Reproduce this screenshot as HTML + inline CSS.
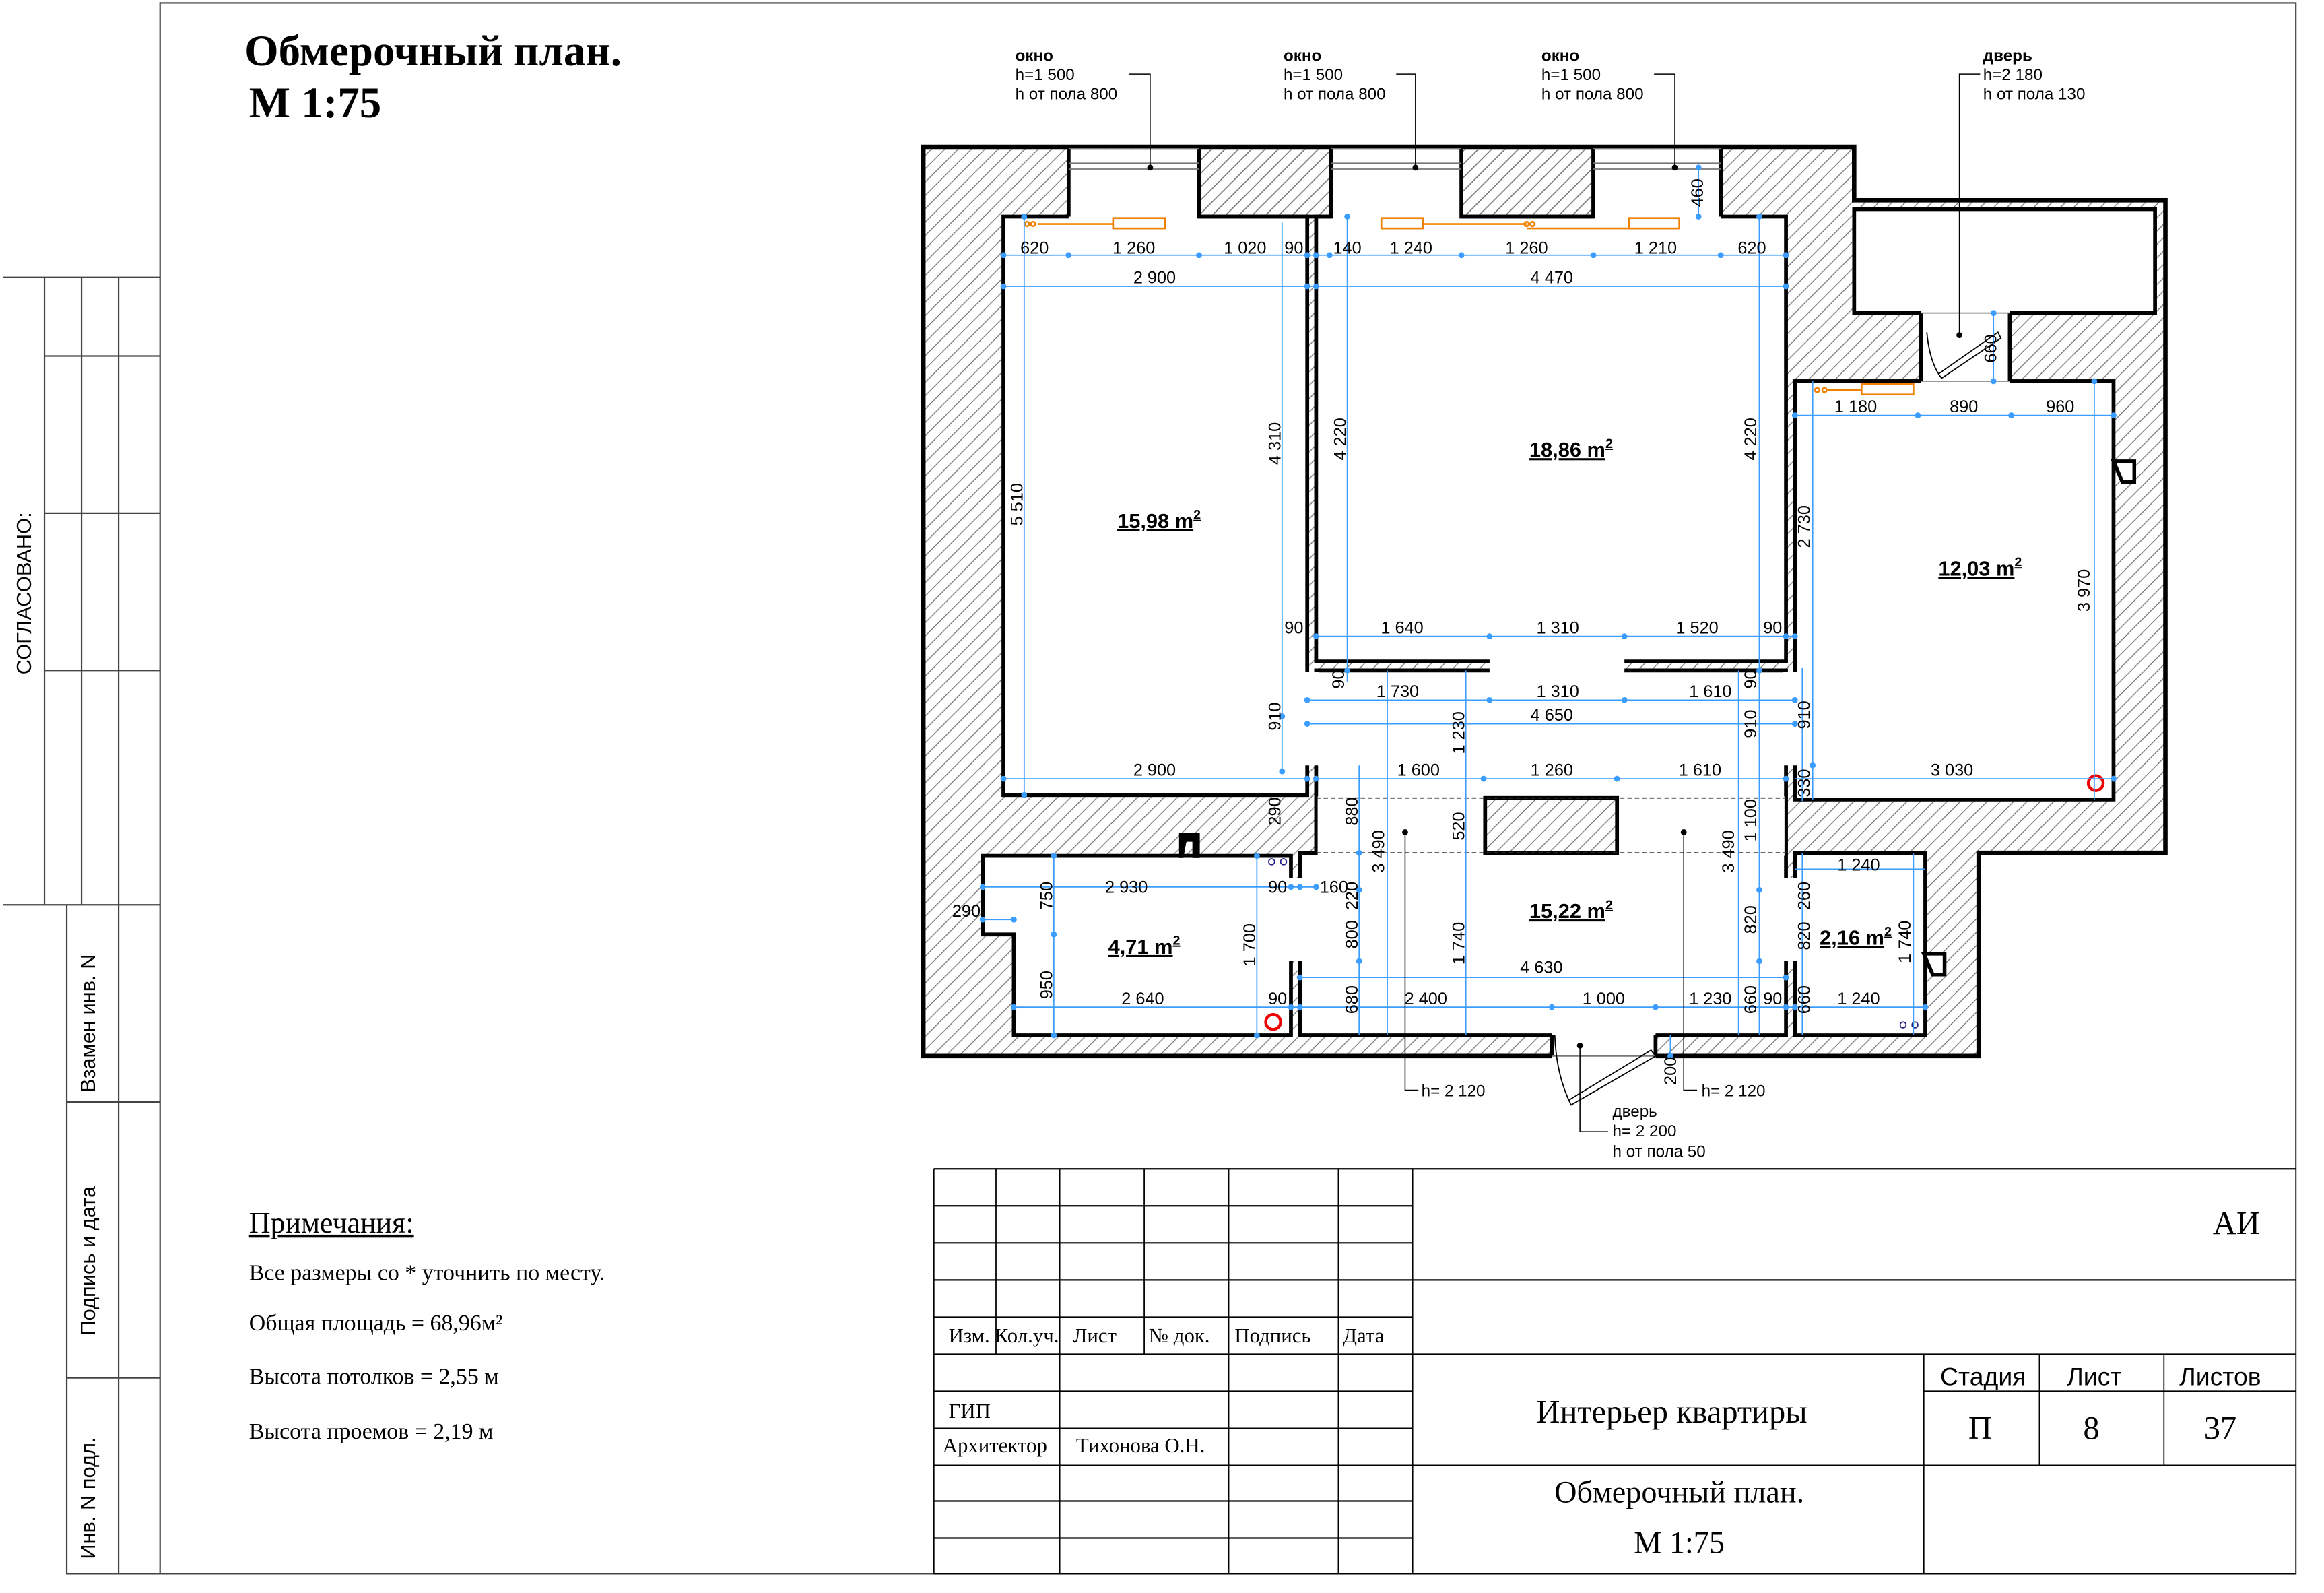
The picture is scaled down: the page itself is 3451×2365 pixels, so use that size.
<!DOCTYPE html>
<html><head><meta charset="utf-8"><style>
html,body{margin:0;padding:0;background:#fff}
svg{display:block}
.dv{font-family:"Liberation Sans",sans-serif;font-size:11.5px;fill:#000;text-anchor:middle}
.a{font-family:"Liberation Sans",sans-serif;font-size:14px;font-weight:bold;text-decoration:underline;text-anchor:middle}
.s{font-family:"Liberation Serif",serif;fill:#000}
.n{font-family:"Liberation Sans",sans-serif}
</style></head><body>
<svg width="3451" height="2365" viewBox="0 0 1568 1074" preserveAspectRatio="none" xmlns="http://www.w3.org/2000/svg">
<defs>
<pattern id="h" patternUnits="userSpaceOnUse" width="9" height="9">
<path d="M0,9 L9,0 M-2,2 L2,-2 M7,11 L11,7" stroke="#777" stroke-width="0.6"/>
</pattern>
</defs>
<rect width="1568" height="1074" fill="#fff"/>
<g stroke="#444" stroke-width="1" fill="none">
<rect x="108" y="2" width="1441" height="1059"/>
<path d="M2,187 H108 M2,610 H108 M30,187 V610 M55,187 V610 M80,187 V610 M30,240 H108 M30,346 H108 M30,452 H108"/>
<path d="M45,610 V1061 H108 M80,610 V1061 M45,743 H108 M45,929 H108"/>
</g>
<text class="s" x="165" y="44" style="font-size:29.5px;font-weight:bold">Обмерочный план.</text>
<text class="s" x="168" y="79" style="font-size:29.5px;font-weight:bold">М 1:75</text>
<text class="n" transform="rotate(-90 21 400)" x="21" y="400" text-anchor="middle" style="font-size:14px">СОГЛАСОВАНО:</text>
<text class="n" transform="rotate(-90 64 690)" x="64" y="690" text-anchor="middle" style="font-size:14px">Взамен инв. N</text>
<text class="n" transform="rotate(-90 64 850)" x="64" y="850" text-anchor="middle" style="font-size:14px">Подпись и дата</text>
<text class="n" transform="rotate(-90 64 1010)" x="64" y="1010" text-anchor="middle" style="font-size:14px">Инв. N подл.</text>
<text class="s" x="168" y="831" style="font-size:20px" text-decoration="underline">Примечания:</text>
<text class="s" x="168" y="863" style="font-size:15.4px">Все размеры со * уточнить по месту.</text>
<text class="s" x="168" y="897" style="font-size:15.4px">Общая площадь = 68,96м²</text>
<text class="s" x="168" y="933" style="font-size:15.4px">Высота потолков = 2,55 м</text>
<text class="s" x="168" y="970" style="font-size:15.4px">Высота проемов = 2,19 м</text>

<g stroke="#000" stroke-width="1" fill="none">
<path d="M630,788 V1061 H1549 M953,788 V1061 M630,788 H1549"/>
<path d="M630,813 H953 M630,838 H953 M630,863 H1549 M630,888 H953 M630,913 H1549 M630,938 H953 M1298,938 H1549 M630,963 H953 M630,988 H1549 M630,1012 H953 M630,1037 H953"/>
<path d="M672,788 V913 M715,788 V1061 M772,788 V913 M829,788 V1061 M903,788 V1061 M1298,913 V1061 M1376,913 V988 M1460,913 V988" stroke-width="0.8"/>
</g>
<text class="s" x="640" y="905" style="font-size:14px">Изм.</text>
<text class="s" x="671" y="905" style="font-size:14px">Кол.уч.</text>
<text class="s" x="724" y="905" style="font-size:14px">Лист</text>
<text class="s" x="775" y="905" style="font-size:14px">№ док.</text>
<text class="s" x="833" y="905" style="font-size:14px">Подпись</text>
<text class="s" x="906" y="905" style="font-size:14px">Дата</text>
<text class="s" x="640" y="956" style="font-size:14px">ГИП</text>
<text class="s" x="636" y="979" style="font-size:14px">Архитектор</text>
<text class="s" x="726" y="979" style="font-size:14px">Тихонова О.Н.</text>
<text class="s" x="1493" y="832" style="font-size:22px">АИ</text>
<text class="s" x="1128" y="959" style="font-size:22px" text-anchor="middle">Интерьер квартиры</text>
<text class="s" x="1133" y="1013" style="font-size:21px" text-anchor="middle">Обмерочный план.</text>
<text class="s" x="1133" y="1047" style="font-size:21px" text-anchor="middle">М 1:75</text>
<text class="n" x="1338" y="934" style="font-size:17px" text-anchor="middle">Стадия</text>
<text class="n" x="1413" y="934" style="font-size:17px" text-anchor="middle">Лист</text>
<text class="n" x="1498" y="934" style="font-size:17px" text-anchor="middle">Листов</text>
<text class="s" x="1336" y="970" style="font-size:22px" text-anchor="middle">П</text>
<text class="s" x="1411" y="970" style="font-size:22px" text-anchor="middle">8</text>
<text class="s" x="1498" y="970" style="font-size:22px" text-anchor="middle">37</text>

<path d="M623,99 H1251 V135 H1461 V575 H1335 V712 H623 Z" fill="url(#h)" stroke="#000" stroke-width="3"/>
<g fill="#fff" stroke="#000" stroke-width="2.6">
<rect x="1251" y="141" width="203" height="70"/>
<rect x="677" y="146" width="205" height="390"/>
<rect x="888" y="146" width="317" height="300"/>
<rect x="1211" y="257" width="215" height="282"/>
<path d="M888,452 H1205 V698 H877 V575 H888 Z"/>
<path d="M663,577 H871 V698 H684 V630 H663 Z"/>
<rect x="1211" y="575" width="88" height="123"/>
</g>
<g fill="#fff">
<rect x="721" y="100.5" width="88" height="47"/>
<rect x="898" y="100.5" width="88" height="47"/>
<rect x="1075" y="100.5" width="86" height="47"/>
<rect x="1005" y="443" width="91" height="11"/>
<rect x="880" y="453" width="10" height="63"/>
<rect x="1203" y="453" width="10" height="63"/>
<rect x="869" y="592" width="10" height="56"/>
<rect x="1203" y="592" width="10" height="56"/>
<rect x="1296" y="209" width="60" height="50"/>
<rect x="1047" y="696" width="70" height="18"/>
<rect x="889" y="537" width="315" height="40"/>
</g>
<g stroke="#000" stroke-width="2.6" fill="url(#h)">
<rect x="809" y="99" width="89" height="47"/>
<rect x="986" y="99" width="89" height="47"/>
<rect x="1002" y="538" width="89" height="37"/>
</g>
<path d="M1161,99 V146 M721,99 V146 M623,99 H721 M1161,99 H1251 M1296,211 V257 M1356,211 V257 M1047,698 V712 M1117,698 V712" stroke="#000" stroke-width="2.6"/>
<g stroke="#777" stroke-width="0.8" fill="none">
<path d="M721,100 H809 M898,100 H986 M1075,100 H1161"/>
<path d="M721,110 H809 M721,114 H809 M898,110 H986 M898,114 H986 M1075,110 H1161 M1075,114 H1161"/>
<path d="M1296,211 H1356 M1296,257 H1356 M1047,712 H1117"/>
</g>
<path d="M888,538 H1205 M888,575 H1205" stroke="#333" stroke-width="0.8" stroke-dasharray="3,2"/>
<g stroke="#000" stroke-width="0.8" fill="none">
<path d="M1300,224 Q1302,245 1310,255 L1350,228 L1348,224 L1308,252"/>
<path d="M1049,698 Q1050,725 1060,745 L1117,712 L1114,708 L1058,742"/>
</g>
<g stroke="#f08000" stroke-width="1.2" fill="none">
<path d="M700,151 H751"/><rect x="751" y="147" width="35" height="7"/>
<circle cx="693" cy="151" r="1.5"/><circle cx="697" cy="151" r="1.5"/>
<rect x="932" y="147" width="28" height="7"/><path d="M960,151 H1030 M1030,154 H1099"/><rect x="1099" y="147" width="34" height="7"/>
<circle cx="1030" cy="151" r="1.5"/><circle cx="1034" cy="151" r="1.5"/>
<circle cx="1226" cy="263" r="1.5"/><circle cx="1231" cy="263" r="1.5"/><path d="M1233,263 H1256"/><rect x="1256" y="259" width="35" height="7"/>
</g>
<g stroke="#e00" stroke-width="2" fill="none"><circle cx="1414" cy="528" r="5"/><circle cx="859" cy="689" r="5"/></g>
<g stroke="#228" stroke-width="0.8" fill="none"><circle cx="858" cy="581" r="2"/><circle cx="866" cy="581" r="2"/><circle cx="1284" cy="691" r="2"/><circle cx="1292" cy="691" r="2"/></g>
<g fill="#000" stroke="#000" stroke-width="1"><path d="M796,562 H809 V578 H805 V567 H800 L798,578 H796 Z"/><path d="M1426,311 H1440 V325 H1432 Z" fill="#fff" stroke-width="2.5"/><path d="M1298,643 H1312 V657 H1304 Z" fill="#fff" stroke-width="2.5"/></g>

<g stroke="#3a9dff" stroke-width="0.8" fill="none">
<path d="M677,172 H1205 M677,193 H1205 M1211,280 H1426 M888,429 H1211 M882,472 H1211 M882,488 H1211 M677,525 H882 M888,525 H1205 M1211,525 H1426"/>
<path d="M663,598 H888 M663,620 H684 M1211,586 H1299 M877,659 H1205 M684,679 H1299"/>
<path d="M691,146 V536 M865,150 V520 M909,146 V460 M1187,146 V698 M1223,257 V539 M1413,257 V539 M1146,113 V146"/>
<path d="M936,452 V698 M989,452 V698 M917,516 V698 M1173,452 V698 M1216,450 V540 M711,577 V698 M848,577 V698 M1291,575 V698 M1216,575 V698 M1127,698 V712 M1345,211 V257"/>
</g>
<g fill="#3a9dff">
<circle cx="677" cy="172" r="2"/><circle cx="721" cy="172" r="2"/><circle cx="809" cy="172" r="2"/><circle cx="882" cy="172" r="2"/><circle cx="888" cy="172" r="2"/><circle cx="897" cy="172" r="2"/><circle cx="986" cy="172" r="2"/><circle cx="1075" cy="172" r="2"/><circle cx="1161" cy="172" r="2"/><circle cx="1205" cy="172" r="2"/>
<circle cx="677" cy="193" r="2"/><circle cx="882" cy="193" r="2"/><circle cx="888" cy="193" r="2"/><circle cx="1205" cy="193" r="2"/>
<circle cx="1211" cy="280" r="2"/><circle cx="1294" cy="280" r="2"/><circle cx="1357" cy="280" r="2"/><circle cx="1426" cy="280" r="2"/>
<circle cx="888" cy="429" r="2"/><circle cx="1005" cy="429" r="2"/><circle cx="1096" cy="429" r="2"/><circle cx="1205" cy="429" r="2"/><circle cx="1211" cy="429" r="2"/>
<circle cx="882" cy="472" r="2"/><circle cx="1005" cy="472" r="2"/><circle cx="1096" cy="472" r="2"/><circle cx="1211" cy="472" r="2"/>
<circle cx="882" cy="488" r="2"/><circle cx="1211" cy="488" r="2"/>
<circle cx="677" cy="525" r="2"/><circle cx="882" cy="525" r="2"/><circle cx="888" cy="525" r="2"/><circle cx="1001" cy="525" r="2"/><circle cx="1091" cy="525" r="2"/><circle cx="1205" cy="525" r="2"/><circle cx="1426" cy="525" r="2"/>
<circle cx="691" cy="146" r="2"/><circle cx="691" cy="536" r="2"/><circle cx="865" cy="483" r="2"/><circle cx="865" cy="520" r="2"/><circle cx="909" cy="146" r="2"/><circle cx="909" cy="452" r="2"/><circle cx="1187" cy="146" r="2"/><circle cx="1187" cy="452" r="2"/><circle cx="1223" cy="516" r="2"/><circle cx="1413" cy="257" r="2"/>
<circle cx="663" cy="598" r="2"/><circle cx="871" cy="598" r="2"/><circle cx="877" cy="598" r="2"/><circle cx="888" cy="598" r="2"/><circle cx="663" cy="620" r="2"/><circle cx="684" cy="620" r="2"/>
<circle cx="877" cy="659" r="2"/><circle cx="1205" cy="659" r="2"/><circle cx="684" cy="679" r="2"/><circle cx="871" cy="679" r="2"/><circle cx="877" cy="679" r="2"/><circle cx="1047" cy="679" r="2"/><circle cx="1117" cy="679" r="2"/><circle cx="1205" cy="679" r="2"/><circle cx="1211" cy="679" r="2"/><circle cx="1299" cy="679" r="2"/>
<circle cx="917" cy="575" r="2"/><circle cx="917" cy="600" r="2"/><circle cx="917" cy="648" r="2"/><circle cx="1187" cy="600" r="2"/><circle cx="1187" cy="648" r="2"/><circle cx="711" cy="577" r="2"/><circle cx="711" cy="630" r="2"/><circle cx="711" cy="698" r="2"/><circle cx="848" cy="577" r="2"/><circle cx="848" cy="698" r="2"/><circle cx="1127" cy="712" r="2"/><circle cx="1345" cy="211" r="2"/><circle cx="1345" cy="257" r="2"/><circle cx="1146" cy="113" r="2"/><circle cx="1146" cy="146" r="2"/>
</g>

<g class="dv">
<text x="698" y="171">620</text><text x="765" y="171">1 260</text><text x="840" y="171">1 020</text><text x="873" y="171">90</text><text x="909" y="171">140</text><text x="952" y="171">1 240</text><text x="1030" y="171">1 260</text><text x="1117" y="171">1 210</text><text x="1182" y="171">620</text>
<text x="779" y="191">2 900</text><text x="1047" y="191">4 470</text>
<text x="1252" y="278">1 180</text><text x="1325" y="278">890</text><text x="1390" y="278">960</text>
<text x="873" y="427">90</text><text x="946" y="427">1 640</text><text x="1051" y="427">1 310</text><text x="1145" y="427">1 520</text><text x="1196" y="427">90</text>
<text x="943" y="470">1 730</text><text x="1051" y="470">1 310</text><text x="1154" y="470">1 610</text>
<text x="1047" y="486">4 650</text>
<text x="779" y="523">2 900</text><text x="957" y="523">1 600</text><text x="1047" y="523">1 260</text><text x="1147" y="523">1 610</text><text x="1317" y="523">3 030</text>
<text x="760" y="602">2 930</text><text x="862" y="602">90</text><text x="900" y="602">160</text>
<text x="1254" y="587">1 240</text><text x="652" y="618">290</text>
<text x="1040" y="656">4 630</text>
<text x="771" y="677">2 640</text><text x="862" y="677">90</text><text x="962" y="677">2 400</text><text x="1082" y="677">1 000</text><text x="1154" y="677">1 230</text><text x="1196" y="677">90</text><text x="1254" y="677">1 240</text>
</g>
<g class="dv">
<text transform="rotate(-90 690 340)" x="690" y="340">5 510</text>
<text transform="rotate(-90 864 299)" x="864" y="299">4 310</text>
<text transform="rotate(-90 908 296)" x="908" y="296">4 220</text>
<text transform="rotate(-90 1185 296)" x="1185" y="296">4 220</text>
<text transform="rotate(-90 1221 355)" x="1221" y="355">2 730</text>
<text transform="rotate(-90 1410 398)" x="1410" y="398">3 970</text>
<text transform="rotate(-90 1149 130)" x="1149" y="130">460</text>
<text transform="rotate(-90 1347 235)" x="1347" y="235">660</text>
<text transform="rotate(-90 907 458)" x="907" y="458">90</text>
<text transform="rotate(-90 864 483)" x="864" y="483">910</text>
<text transform="rotate(-90 988 494)" x="988" y="494">1 230</text>
<text transform="rotate(-90 1185 458)" x="1185" y="458">90</text>
<text transform="rotate(-90 1185 488)" x="1185" y="488">910</text>
<text transform="rotate(-90 1221 482)" x="1221" y="482">910</text>
<text transform="rotate(-90 864 547)" x="864" y="547">290</text>
<text transform="rotate(-90 916 547)" x="916" y="547">880</text>
<text transform="rotate(-90 934 574)" x="934" y="574">3 490</text>
<text transform="rotate(-90 988 557)" x="988" y="557">520</text>
<text transform="rotate(-90 1170 574)" x="1170" y="574">3 490</text>
<text transform="rotate(-90 1185 553)" x="1185" y="553">1 100</text>
<text transform="rotate(-90 1221 528)" x="1221" y="528">330</text>
<text transform="rotate(-90 710 604)" x="710" y="604">750</text>
<text transform="rotate(-90 916 604)" x="916" y="604">220</text>
<text transform="rotate(-90 1221 604)" x="1221" y="604">260</text>
<text transform="rotate(-90 916 630)" x="916" y="630">800</text>
<text transform="rotate(-90 847 637)" x="847" y="637">1 700</text>
<text transform="rotate(-90 988 636)" x="988" y="636">1 740</text>
<text transform="rotate(-90 1185 620)" x="1185" y="620">820</text>
<text transform="rotate(-90 1221 631)" x="1221" y="631">820</text>
<text transform="rotate(-90 1289 635)" x="1289" y="635">1 740</text>
<text transform="rotate(-90 710 664)" x="710" y="664">950</text>
<text transform="rotate(-90 916 674)" x="916" y="674">680</text>
<text transform="rotate(-90 1185 674)" x="1185" y="674">660</text>
<text transform="rotate(-90 1221 674)" x="1221" y="674">660</text>
<text transform="rotate(-90 1131 722)" x="1131" y="722">200</text>
</g>
<text class="a" x="782" y="356">15,98 m<tspan style="font-size:9px" dy="-6">2</tspan></text>
<text class="a" x="1060" y="308">18,86 m<tspan style="font-size:9px" dy="-6">2</tspan></text>
<text class="a" x="1336" y="388">12,03 m<tspan style="font-size:9px" dy="-6">2</tspan></text>
<text class="a" x="1060" y="619">15,22 m<tspan style="font-size:9px" dy="-6">2</tspan></text>
<text class="a" x="772" y="643">4,71 m<tspan style="font-size:9px" dy="-6">2</tspan></text>
<text class="a" x="1252" y="637">2,16 m<tspan style="font-size:9px" dy="-6">2</tspan></text>

<g stroke="#000" stroke-width="0.7" fill="none">
<path d="M762,50 H776 V113 M942,50 H955 V113 M1116,50 H1130 V113 M1336,50 H1322 V226"/>
<path d="M948,560 V735 H957 M1136,560 V735 H1145 M1066,705 V763 H1085"/>
</g>
<g fill="#000"><circle cx="776" cy="113" r="2"/><circle cx="955" cy="113" r="2"/><circle cx="1130" cy="113" r="2"/><circle cx="1322" cy="226" r="2"/><circle cx="948" cy="561" r="2"/><circle cx="1136" cy="561" r="2"/><circle cx="1066" cy="705" r="2"/></g>
<g class="n" style="font-size:11px">
<text x="685" y="41" font-weight="bold">окно</text><text x="685" y="54">h=1 500</text><text x="685" y="67">h от пола 800</text>
<text x="866" y="41" font-weight="bold">окно</text><text x="866" y="54">h=1 500</text><text x="866" y="67">h от пола 800</text>
<text x="1040" y="41" font-weight="bold">окно</text><text x="1040" y="54">h=1 500</text><text x="1040" y="67">h от пола 800</text>
<text x="1338" y="41" font-weight="bold">дверь</text><text x="1338" y="54">h=2 180</text><text x="1338" y="67">h от пола 130</text>
<text x="959" y="739">h= 2 120</text><text x="1148" y="739">h= 2 120</text>
<text x="1088" y="753">дверь</text><text x="1088" y="766">h= 2 200</text><text x="1088" y="780">h от пола 50</text>
</g>
</svg>
</body></html>
